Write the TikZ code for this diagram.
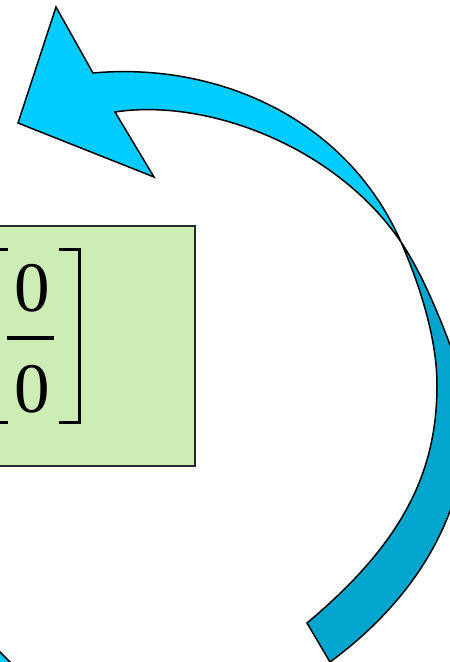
\documentclass[tikz,border=0pt]{standalone}
\usepackage{fontspec}
\setmainfont{Liberation Serif}
\definecolor{cyanA}{RGB}{0,204,255}
\definecolor{cyanB}{RGB}{0,166,206}
\definecolor{boxgreen}{RGB}{204,238,180}
\definecolor{boxedge}{RGB}{40,40,40}
\begin{document}
\begin{tikzpicture}[x=1pt,y=-1pt,
  arrowA/.style={fill=cyanA,draw=black,line width=1.5pt,line join=miter},
  arrowB/.style={fill=cyanB,draw=black,line width=1.5pt,line join=miter},
  greenbox/.style={fill=boxgreen,draw=boxedge,line width=1.5pt},
  zero/.style={font=\fontsize{71}{80}\selectfont,inner sep=0pt,anchor=base},
  bracketline/.style={line width=3pt,line cap=butt},
  barline/.style={line width=3.4pt}]
\useasboundingbox (0,0) rectangle (450,662);
\clip (0,0) rectangle (450,662);
% green box
\path[greenbox] (-20,226) rectangle (195,466);
% fraction contents
\node[zero] (num) at (32,311) {0};
\node[zero] (den) at (32,412) {0};
\draw[barline] (7,338) -- (54,338);
\draw[bracketline] (59,249) -- (79.5,249) -- (79.5,422) -- (59,422);
\draw[bracketline] (8,249) -- (-14,249) -- (-14,422) -- (8,422);
% upper part of the curved arrow (head)
\coordinate (twist) at (401,242);
\path[arrowA] (56,7) -- (93,73)
  .. controls (213,62) and (345,115) .. (twist)
  .. controls (335,145) and (205,98) .. (115,112)
  -- (154,177) -- (18,123) -- cycle;
% lower part of the curved arrow (tail)
\path[arrowB] (twist)
  .. controls (423,275) and (440,318) .. (452,350)
  .. controls (485,430) and (466,562) .. (330,662)
  -- (307,623)
  .. controls (405,541) and (437,470) .. (437,385)
  .. controls (437,340) and (421,288) .. (twist)
  -- cycle;
% piece of a further arrow at the lower left corner
\fill[cyanA] (-10,642) -- (20,672) -- (-10,672) -- cycle;
\draw[black,line width=1.5pt] (-10,642) -- (20,672);
\end{tikzpicture}
\end{document}
